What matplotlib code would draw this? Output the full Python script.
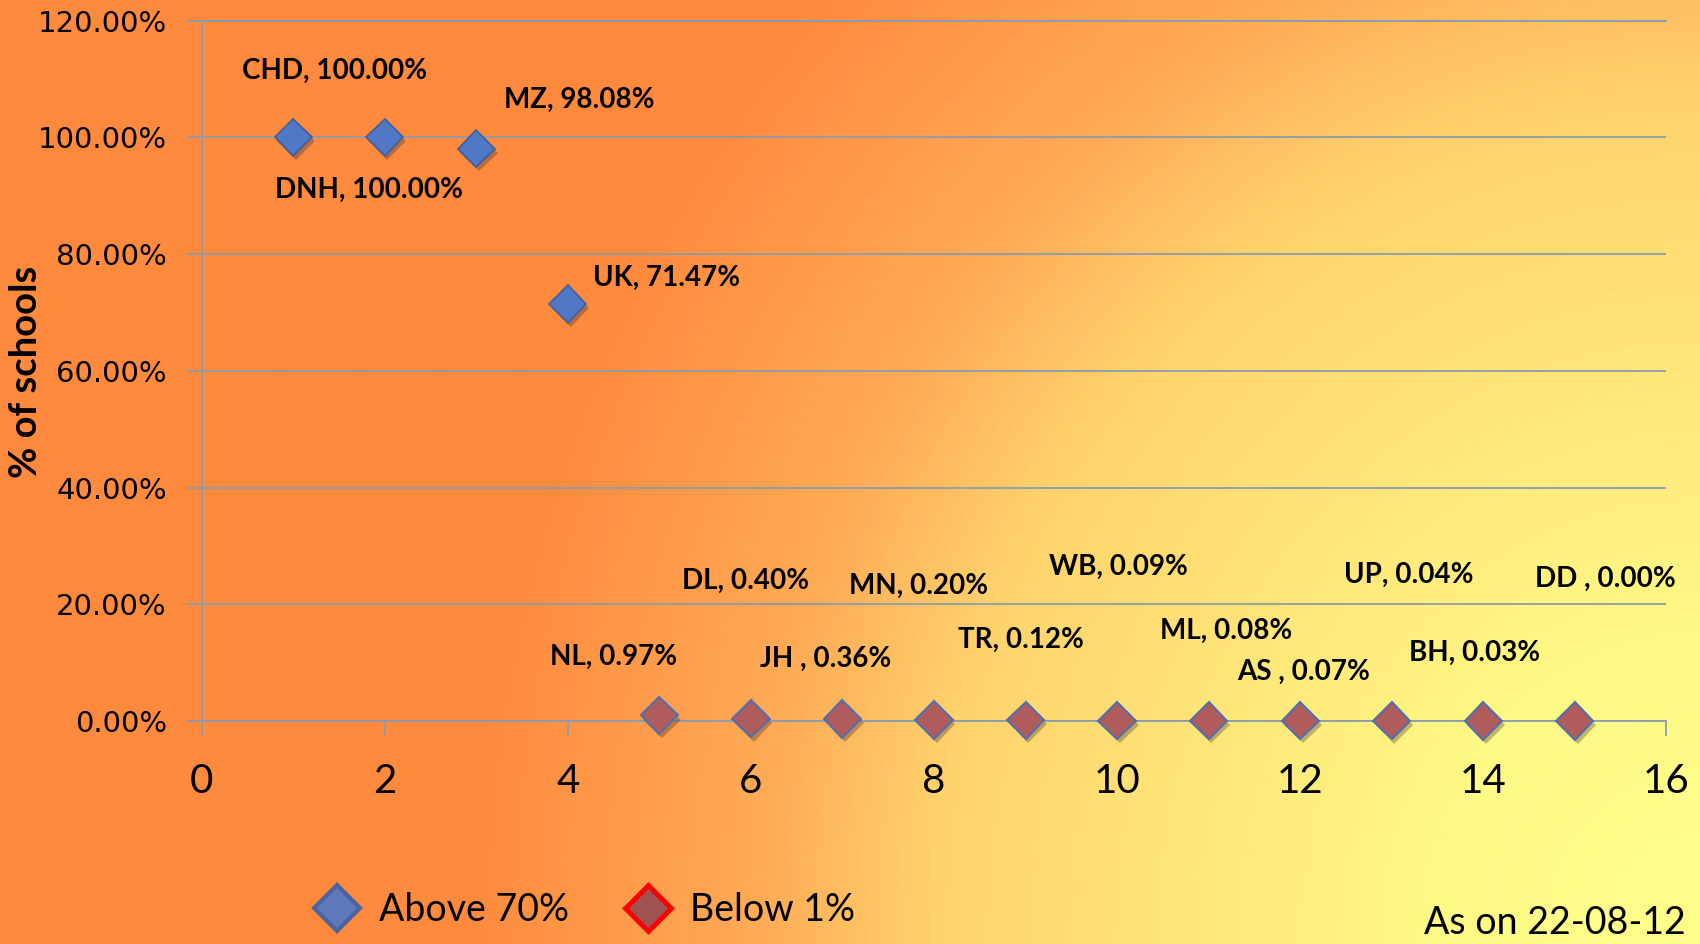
import numpy as np
import matplotlib.pyplot as plt
import matplotlib.patheffects as pe
from matplotlib.lines import Line2D
from matplotlib.ticker import FuncFormatter, MultipleLocator

# states with more than 70% of schools
above_names = ['CHD', 'DNH', 'MZ', 'UK']
above_x = [1, 2, 3, 4]
above_pct = [100.00, 100.00, 98.08, 71.47]

# states with less than 1% of schools
below_names = ['NL', 'DL', 'JH ', 'MN', 'TR', 'WB', 'ML', 'AS ', 'UP', 'BH', 'DD ']
below_x = [5, 6, 7, 8, 9, 10, 11, 12, 13, 14, 15]
below_pct = [0.97, 0.40, 0.36, 0.20, 0.12, 0.09, 0.08, 0.07, 0.04, 0.03, 0.00]

# where the data labels sit, offset from the marker in pixels
above_offsets = [(41, 66), (-16, -53), (103, 49), (99, 26)]
below_offsets = [(-46, 59), (-5, 138), (-17, 60), (-15, 134), (-5, 80), (1, 154),
                 (18, 90), (3, 49), (17, 146), (-9, 68), (31, 142)]

W, H = 1700, 944
fig = plt.figure(figsize=(W / 100, H / 100), dpi=100)

# background: orange to yellow, lighter towards the lower right corner
bg = fig.add_axes([0, 0, 1, 1], zorder=-10)
xx, yy = np.meshgrid(np.linspace(0, 1, 340), np.linspace(0, 1, 190))
d = np.sqrt(((1 - xx) * 2.0) ** 2 + (1 - yy) ** 2)
stops = [0.0, 0.3, 0.9, 1.1, 1.45]
g = np.interp(d, stops, [255, 250, 211, 172, 138])
b = np.interp(d, stops, [140, 134, 108, 86, 61])
img = np.dstack([np.ones_like(g), g / 255, b / 255])
bg.imshow(img, aspect='auto', extent=[0, 1, 0, 1], origin='upper', interpolation='bilinear')
bg.axis('off')

ax = fig.add_axes([0.1186, 0.2362, 0.8616, 0.742])
ax.set_facecolor('none')

grid_color = '#8a9bb2'
marker_shadow = [pe.SimplePatchShadow(offset=(2, -3), alpha=0.3), pe.Normal()]

ax.plot(above_x, above_pct, linestyle='none', marker='D', ms=19,
        mfc='#5078c4', mec='#3d5e9e', mew=1.2, zorder=5, path_effects=marker_shadow)
ax.plot(below_x, below_pct, linestyle='none', marker='D', ms=19,
        mfc='#b05c5c', mec='#4f6fb0', mew=1.5, zorder=5, path_effects=marker_shadow,
        clip_on=False)

label_style = dict(textcoords='offset pixels', ha='center', va='center',
                   fontsize=20, fontweight='bold', family='Lato', color='black')
for name, x, y, off in zip(above_names, above_x, above_pct, above_offsets):
    ax.annotate(f'{name}, {y:.2f}%', (x, y), xytext=off, **label_style)
for name, x, y, off in zip(below_names, below_x, below_pct, below_offsets):
    ax.annotate(f'{name}, {y:.2f}%', (x, y), xytext=off, **label_style)

ax.set_xlim(0, 16)
ax.set_ylim(0, 120)
ax.xaxis.set_major_locator(MultipleLocator(2))
ax.yaxis.set_major_locator(MultipleLocator(20))
ax.yaxis.set_major_formatter(FuncFormatter(lambda v, p: f'{v:.2f}%'))

ax.grid(axis='y', color=grid_color, linewidth=1.3)
ax.set_axisbelow(True)
ax.spines['right'].set_visible(False)
for side in ['left', 'bottom', 'top']:
    ax.spines[side].set_color(grid_color)
    ax.spines[side].set_linewidth(1.3)

ax.tick_params(axis='y', direction='out', length=11, width=1.3, color=grid_color,
               pad=14, labelsize=21, labelfontfamily='DejaVu Sans')
ax.tick_params(axis='x', direction='out', length=11, width=1.3, color=grid_color,
               pad=19, labelsize=29, labelfontfamily='Lato')

fig.text(26 / W, 1 - 372 / H, '% of schools', rotation=90, ha='center', va='center',
         fontsize=27.5, fontweight='bold', family='Lato')

# legend
handles = [Line2D([], [], linestyle='none', marker='D', ms=23, mfc='#6079bd', mec='#4a64a0', mew=3),
           Line2D([], [], linestyle='none', marker='D', ms=23, mfc='#9e5252', mec='#ff0000', mew=3.5)]
fig.legend(handles, ['Above 70%', 'Below 1%'], loc='center', bbox_to_anchor=(0.343, 0.036),
           ncol=2, frameon=False, prop={'family': 'Lato', 'size': 27},
           handlelength=1.4, handletextpad=0.42, columnspacing=1.42)

fig.text(1686 / W, 3 / H, 'As on 22-08-12', ha='right', va='bottom', fontsize=27, family='Lato')

fig.savefig('out.png', dpi=100)
